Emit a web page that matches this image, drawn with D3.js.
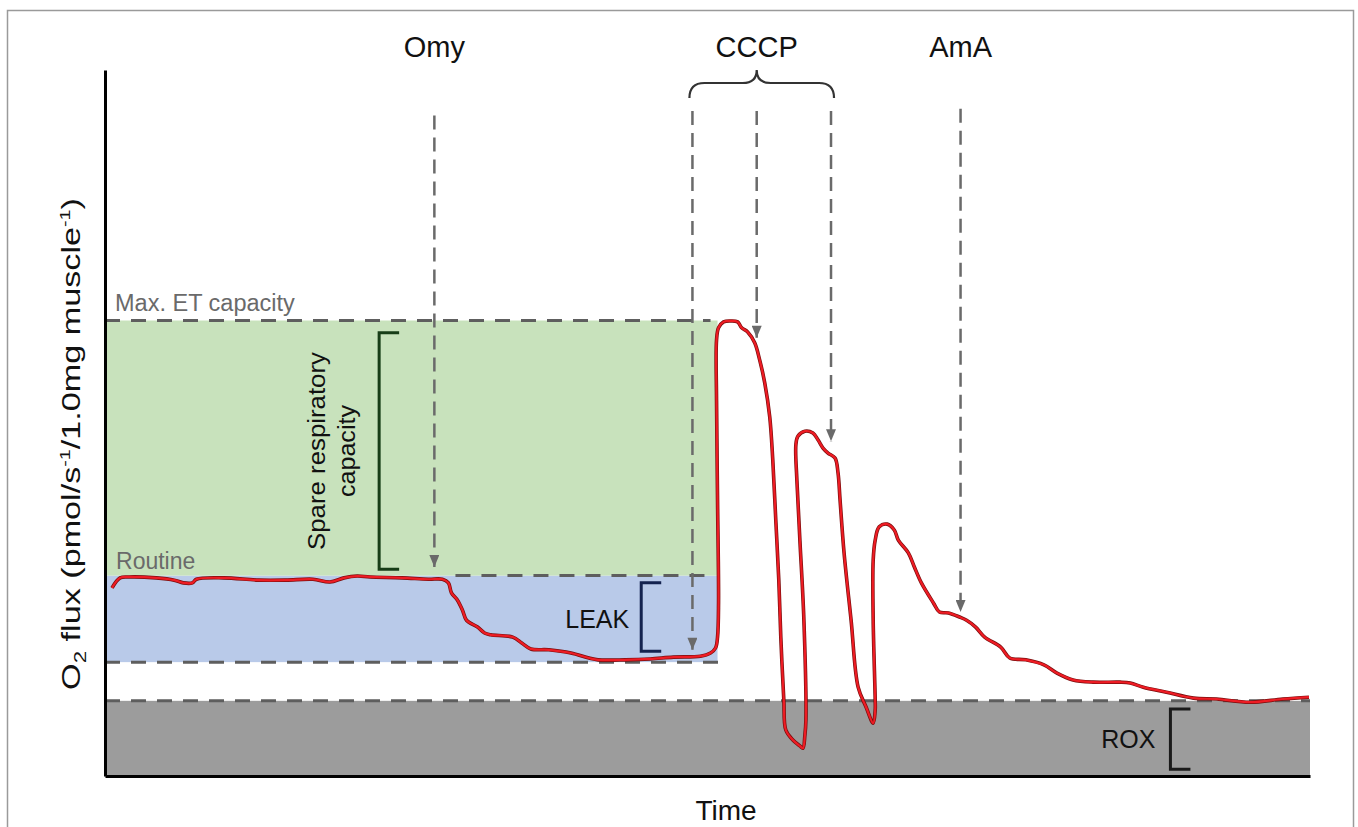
<!DOCTYPE html>
<html>

<head>
	<title>O2 flux protocol</title>
	<style>
		body {
			margin: 0;
			background: #ffffff;
		}
		text {
			font-family: "Liberation Sans", Arial, sans-serif;
		}
	</style>
</head>

<body>
	<script src="https://d3js.org/d3.v7.min.js"></script>
	<script type="text/javascript">
		// trace: time (min) and O2 flux (% of max ET capacity)
		var traceTime = [0.7, 1.5, 2.4, 5.1, 6.9, 7.8, 8.7, 9.1, 11.8, 15.3, 18.0, 20.7, 22.4, 23.8, 25.1, 26.4, 29.6, 32.2, 33.6,
			34.2, 34.5, 35.1, 35.6, 36.0, 37.1, 37.8, 38.4, 40.6, 41.5, 42.4, 44.2, 46.4, 48.2, 49.1, 51.8, 54.3, 56.6, 59.3,
			60.3, 60.8, 61.0, 61.1, 61.0, 60.9, 60.9, 61.1, 61.6, 62.3, 63.0, 63.4, 64.0, 64.7, 65.2, 65.7, 66.2, 66.5, 66.8,
			67.1, 67.3, 67.6, 67.8, 68.5, 69.2, 69.5, 69.7, 69.8, 69.6, 69.2, 68.9, 68.8, 69.0, 69.7, 70.5, 71.0, 71.5, 72.0,
			72.7, 73.0, 73.2, 73.6, 74.3, 75.0, 75.8, 76.5, 76.7, 76.7, 76.5, 76.5, 76.7, 77.1, 77.9, 78.6, 79.0, 80.0, 80.6,
			81.3, 82.5, 83.1, 84.0, 85.1, 85.8, 86.7, 87.6, 89.2, 90.1, 91.7, 93.5, 94.8, 96.4, 98.4, 101.1, 102.1, 103.4,
			105.7, 108.4, 110.7, 114.0, 117.3, 119.9];
		var traceFlux = [41.3, 43.5, 43.7, 43.5, 43.0, 42.4, 42.4, 43.2, 43.5, 43.0, 43.0, 43.2, 42.6, 43.5, 43.9, 43.7, 43.5, 43.2, 43.2,
			42.4, 40.2, 38.6, 36.4, 34.2, 32.7, 31.4, 31.0, 30.5, 29.2, 27.9, 27.7, 27.0, 25.9, 25.5, 25.5, 25.7, 26.1, 26.3,
			27.0, 28.1, 30.5, 38.0, 60.6, 82.5, 95.7, 98.4, 99.7, 99.9, 99.7, 98.4, 97.5, 95.1, 91.3, 86.3, 78.8, 69.4, 56.2,
			43.0, 30.5, 16.7, 10.1, 7.9, 6.6, 6.1, 9.0, 12.3, 34.2, 51.8, 65.0, 72.7, 74.6, 75.7, 75.3, 73.8, 72.0, 70.9,
			69.8, 66.5, 60.6, 49.0, 34.2, 19.5, 15.1, 11.6, 14.5, 16.7, 34.2, 47.4, 51.8, 54.7, 55.3, 54.0, 51.8, 49.0, 45.9,
			42.4, 38.0, 36.0, 35.8, 34.9, 34.2, 32.7, 30.5, 28.3, 25.9, 25.5, 24.4, 22.6, 21.1, 20.6, 20.6, 20.4, 19.5,
			18.4, 17.1, 16.9, 16.2, 16.9, 17.3];

		// respiratory states
		var stateNames = ["ROX", "LEAK", "Routine", "Max. ET capacity"];
		var stateFlux = [16.5, 25, 44, 100];
		var uncouplingTime = 61.0;

		// injections: arrow position and the flux the arrow points to
		var injectionTime = [32.8, 58.5, 64.9, 72.3, 85.2];
		var injectionFlux = [45.9, 27.7, 96.2, 73.5, 36.0];
		var injectionTop = [145, 146, 146, 146, 146.5];
		var drugNames = ["Omy", "CCCP", "AmA"];
		var drugTime = [32.8, 64.9, 85.2];
		var cccpRange = [58.2, 72.6];

		// brackets: [time of bar, flux from, flux to]
		var spareBracket = [27.3, 45.4, 97.3];
		var leakBracket = [53.4, 27.4, 42.4];
		var roxBracket = [106.1, 1.5, 14.7];

		var width = 1358;
		var height = 827;

		var svg = d3.select("body").append("svg")
			.attr("width", width)
			.attr("height", height);

		var x = d3.scaleLinear().domain([0, 120]).range([105, 1310]);
		var y = d3.scaleLinear().domain([0, 155]).range([776, 70]);

		// outer frame
		svg.append("rect")
			.attr("x", 7.5)
			.attr("y", 10.5)
			.attr("width", 1346)
			.attr("height", 840)
			.style("fill", "none")
			.style("stroke", "#9a9a9a")
			.style("stroke-width", 1.5);

		// shaded states
		svg.append("rect")
			.attr("x", x(0))
			.attr("y", y(stateFlux[0]))
			.attr("width", x(120) - x(0))
			.attr("height", y(0) - y(stateFlux[0]))
			.style("fill", "#9c9c9c");
		svg.append("rect")
			.attr("x", x(0))
			.attr("y", y(stateFlux[2]))
			.attr("width", x(uncouplingTime) - x(0))
			.attr("height", y(stateFlux[1]) - y(stateFlux[2]))
			.style("fill", "#b9cae9");
		svg.append("rect")
			.attr("x", x(0))
			.attr("y", y(stateFlux[3]))
			.attr("width", x(uncouplingTime) - x(0))
			.attr("height", y(stateFlux[2]) - y(stateFlux[3]))
			.style("fill", "#c8e2bc");

		// dashed state levels
		var levelStart = [0, 0, 34.9, 0];
		var levelEnd = [120, 61.1, 60.5, 60.3];
		for (var i = 0; i < stateFlux.length; i++) {
			svg.append("line")
				.attr("x1", x(levelStart[i]))
				.attr("x2", x(levelEnd[i]))
				.attr("y1", y(stateFlux[i]))
				.attr("y2", y(stateFlux[i]))
				.style("stroke", "#5e5e5e")
				.style("stroke-width", 3)
				.style("stroke-dasharray", "15 11");
		}

		// state labels
		svg.append("text")
			.attr("x", x(1))
			.attr("y", y(stateFlux[3]) - 10)
			.style("font-size", "23.5px")
			.style("fill", "#6a6a6a")
			.text(stateNames[3]);
		svg.append("text")
			.attr("x", x(1.1))
			.attr("y", y(stateFlux[2]) - 7)
			.style("font-size", "23px")
			.style("fill", "#6a6a6a")
			.text(stateNames[2]);

		// arrows
		svg.append("defs").append("marker")
			.attr("id", "head")
			.attr("viewBox", "0 0 12 10")
			.attr("refX", 12)
			.attr("refY", 5)
			.attr("markerUnits", "userSpaceOnUse")
			.attr("markerWidth", 13)
			.attr("markerHeight", 10)
			.attr("orient", "auto")
			.append("path")
			.attr("d", "M0,0 L12,5 L0,10 Z")
			.style("fill", "#6a6a6a");

		for (var i = 0; i < injectionTime.length; i++) {
			svg.append("line")
				.attr("x1", x(injectionTime[i]))
				.attr("x2", x(injectionTime[i]))
				.attr("y1", y(injectionTop[i]))
				.attr("y2", y(injectionFlux[i]))
				.attr("marker-end", "url(#head)")
				.style("stroke", "#6a6a6a")
				.style("stroke-width", 2.5)
				.style("stroke-dasharray", "14 8");
		}

		// drug names
		for (var i = 0; i < drugNames.length; i++) {
			svg.append("text")
				.attr("x", x(drugTime[i]))
				.attr("y", 57)
				.attr("text-anchor", "middle")
				.style("font-size", "29px")
				.style("fill", "#111")
				.text(drugNames[i]);
		}

		// curly brace over the CCCP titration
		var b0 = x(cccpRange[0]), b1 = x(cccpRange[1]), bm = x(drugTime[1]);
		svg.append("path")
			.attr("d", "M" + b0 + ",98 Q" + b0 + ",83 " + (b0 + 15) + ",83 L" + (bm - 14) + ",83 Q" + bm + ",83 " + bm + ",70" +
				" Q" + bm + ",83 " + (bm + 14) + ",83 L" + (b1 - 15) + ",83 Q" + b1 + ",83 " + b1 + ",98")
			.style("fill", "none")
			.style("stroke", "#333")
			.style("stroke-width", 2.2);

		// brackets
		function bracket(b, color) {
			var bx = x(b[0]);
			var tick = 20;
			svg.append("path")
				.attr("d", "M" + (bx + tick) + "," + y(b[2]) + " L" + bx + "," + y(b[2]) + " L" + bx + "," + y(b[1]) + " L" + (bx + tick) + "," + y(b[1]))
				.style("fill", "none")
				.style("stroke", color)
				.style("stroke-width", 3);
		}
		bracket(spareBracket, "#173d17");
		bracket(leakBracket, "#14234f");
		bracket(roxBracket, "#1a1a1a");

		svg.append("text")
			.attr("x", x(leakBracket[0]) - 12)
			.attr("y", 628)
			.attr("text-anchor", "end")
			.style("font-size", "25px")
			.style("fill", "#111")
			.text(stateNames[1]);
		svg.append("text")
			.attr("x", x(roxBracket[0]) - 15)
			.attr("y", 748)
			.attr("text-anchor", "end")
			.style("font-size", "25px")
			.style("fill", "#111")
			.text(stateNames[0]);

		// rotated text stretched to the length it has in the figure
		function verticalText(sel, bx, cy, len) {
			var w = sel.node().getBBox().width;
			sel.attr("transform", "translate(" + bx + "," + cy + ") rotate(-90) scale(" + (len / w) + ",1)");
		}

		var spareMid = (y(spareBracket[1]) + y(spareBracket[2])) / 2;
		var spare1 = svg.append("text")
			.attr("text-anchor", "middle")
			.style("font-size", "24px")
			.style("fill", "#111")
			.text("Spare respiratory");
		verticalText(spare1, 325, spareMid, 198);
		var spare2 = svg.append("text")
			.attr("text-anchor", "middle")
			.style("font-size", "24px")
			.style("fill", "#111")
			.text("capacity");
		verticalText(spare2, 355, spareMid, 92);

		// trace
		var trace = traceTime.map(function(t, i) { return [t, traceFlux[i]]; });
		var line = d3.line()
			.x(function(d) { return x(d[0]); })
			.y(function(d) { return y(d[1]); })
			.curve(d3.curveCatmullRom.alpha(0.5));
		svg.append("path")
			.attr("d", line(trace))
			.style("fill", "none")
			.style("stroke", "#7a0d0d")
			.style("stroke-width", 3.6)
			.style("stroke-linejoin", "round");
		svg.append("path")
			.attr("d", line(trace))
			.style("fill", "none")
			.style("stroke", "#ee1c24")
			.style("stroke-width", 2.2)
			.style("stroke-linejoin", "round");

		// axes without ticks
		var yAxis = svg.append("g")
			.attr("transform", "translate(" + x(0) + ",0)")
			.call(d3.axisLeft(y).tickValues([]).tickSizeOuter(0));
		var xAxis = svg.append("g")
			.attr("transform", "translate(0," + y(0) + ")")
			.call(d3.axisBottom(x).tickValues([]).tickSizeOuter(0));
		svg.selectAll(".domain")
			.style("stroke", "#000")
			.style("stroke-width", 3);

		svg.append("text")
			.attr("x", 726)
			.attr("y", 820)
			.attr("text-anchor", "middle")
			.style("font-size", "28px")
			.style("fill", "#111")
			.text("Time");

		var yLabel = svg.append("text")
			.attr("text-anchor", "middle")
			.style("font-size", "26px")
			.style("fill", "#111");
		yLabel.append("tspan").text("O");
		yLabel.append("tspan").attr("dy", 6).style("font-size", "17px").text("2");
		yLabel.append("tspan").attr("dy", -6).text(" flux (pmol/s");
		yLabel.append("tspan").attr("dy", -10).style("font-size", "15px").text("-1");
		yLabel.append("tspan").attr("dy", 10).text("/1.0mg muscle");
		yLabel.append("tspan").attr("dy", -10).style("font-size", "15px").text("-1");
		yLabel.append("tspan").attr("dy", 10).text(")");
		verticalText(yLabel, 80, 444, 492);
	</script>
</body>

</html>
